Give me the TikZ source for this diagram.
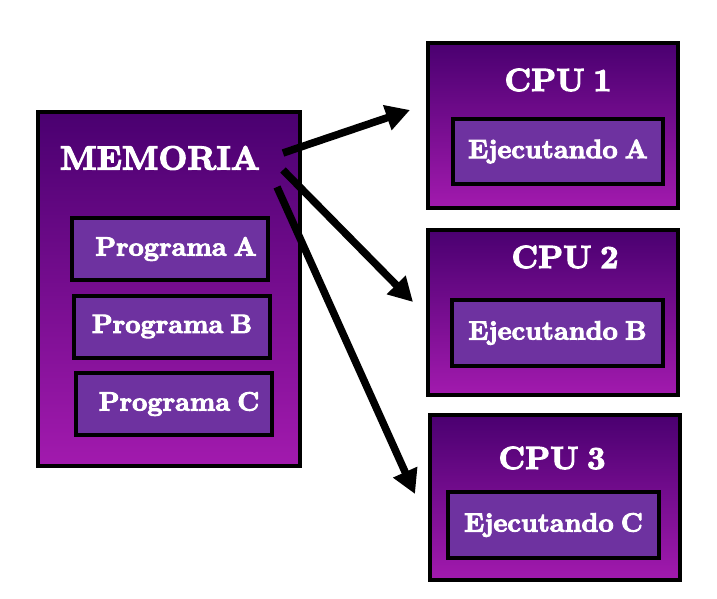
\documentclass[tikz,border=0pt]{standalone}
\usepackage{fontspec}
\usepackage{tikz}
\usetikzlibrary{arrows.meta}

\newfontfamily\gruesa{lmroman10-bold.otf}[FakeBold=3.5, WordSpace=0.7]

\definecolor{moradoosc}{RGB}{74,0,112}
\definecolor{moradoclaro}{RGB}{162,26,174}
\definecolor{moradocaja}{RGB}{110,50,160}

\begin{document}
\begin{tikzpicture}[
        x=1pt, y=1pt,
        bloque/.style={
            rectangle,
            draw=black,
            line width=4pt,
            top color=moradoosc,
            bottom color=moradoclaro,
            inner sep=0pt
        },
        caja/.style={
            rectangle,
            draw=black,
            line width=4pt,
            fill=moradocaja,
            inner sep=0pt,
            text=white,
            font=\gruesa\fontsize{26.5}{30}\selectfont
        },
        titulo/.style={
            text=white,
            inner sep=0pt,
            font=\gruesa\fontsize{32}{36}\selectfont
        },
        flecha/.style={
            line width=7.5pt,
            -{Triangle[length=24pt, width=25pt]}
        }
    ]
        \useasboundingbox (0,0) rectangle (717,598);

        % memoria
        \node[bloque, minimum width=262pt, minimum height=354pt] (memoria) at (169,309) {};
        \node[titulo, font=\gruesa\fontsize{33.5}{38}\selectfont] (tmemoria) at (160,440) {MEMORIA};
        \node[caja, minimum width=196pt, minimum height=62pt] (progA) at (170,349) {\hspace{12pt}Programa A};
        \node[caja, minimum width=196pt, minimum height=62pt] (progB) at (172,271.5) {Programa B};
        \node[caja, minimum width=196pt, minimum height=62pt] (progC) at (174,194) {\hspace{10pt}Programa C};

        % procesadores
        \node[bloque, minimum width=250pt, minimum height=165pt] (cpu1) at (553,472.5) {};
        \node[titulo] (tcpu1) at (558,518) {CPU 1};
        \node[caja, minimum width=210pt, minimum height=65pt] (ejA) at (558,446.5) {Ejecutando A};

        \node[bloque, minimum width=250pt, minimum height=165pt] (cpu2) at (553,285.5) {};
        \node[titulo] (tcpu2) at (565,341) {CPU 2};
        \node[caja, minimum width=211pt, minimum height=66pt] (ejB) at (557.5,265) {Ejecutando B};

        \node[bloque, minimum width=250pt, minimum height=165pt] (cpu3) at (555,100.5) {};
        \node[titulo] (tcpu3) at (552,140) {CPU 3};
        \node[caja, minimum width=211pt, minimum height=66pt] (ejC) at (553.5,73) {Ejecutando C\hspace{6pt}};

        % flechas
        \coordinate (salidaA) at (283,445);
        \coordinate (llegadaA) at (410,488);
        \coordinate (salidaB) at (283,428);
        \coordinate (llegadaB) at (413,296);
        \coordinate (salidaC) at (277,411);
        \coordinate (llegadaC) at (415,104);
        \draw[flecha] (salidaA) -- (llegadaA);
        \draw[flecha] (salidaB) -- (llegadaB);
        \draw[flecha] (salidaC) -- (llegadaC);
    \end{tikzpicture}
\end{document}
